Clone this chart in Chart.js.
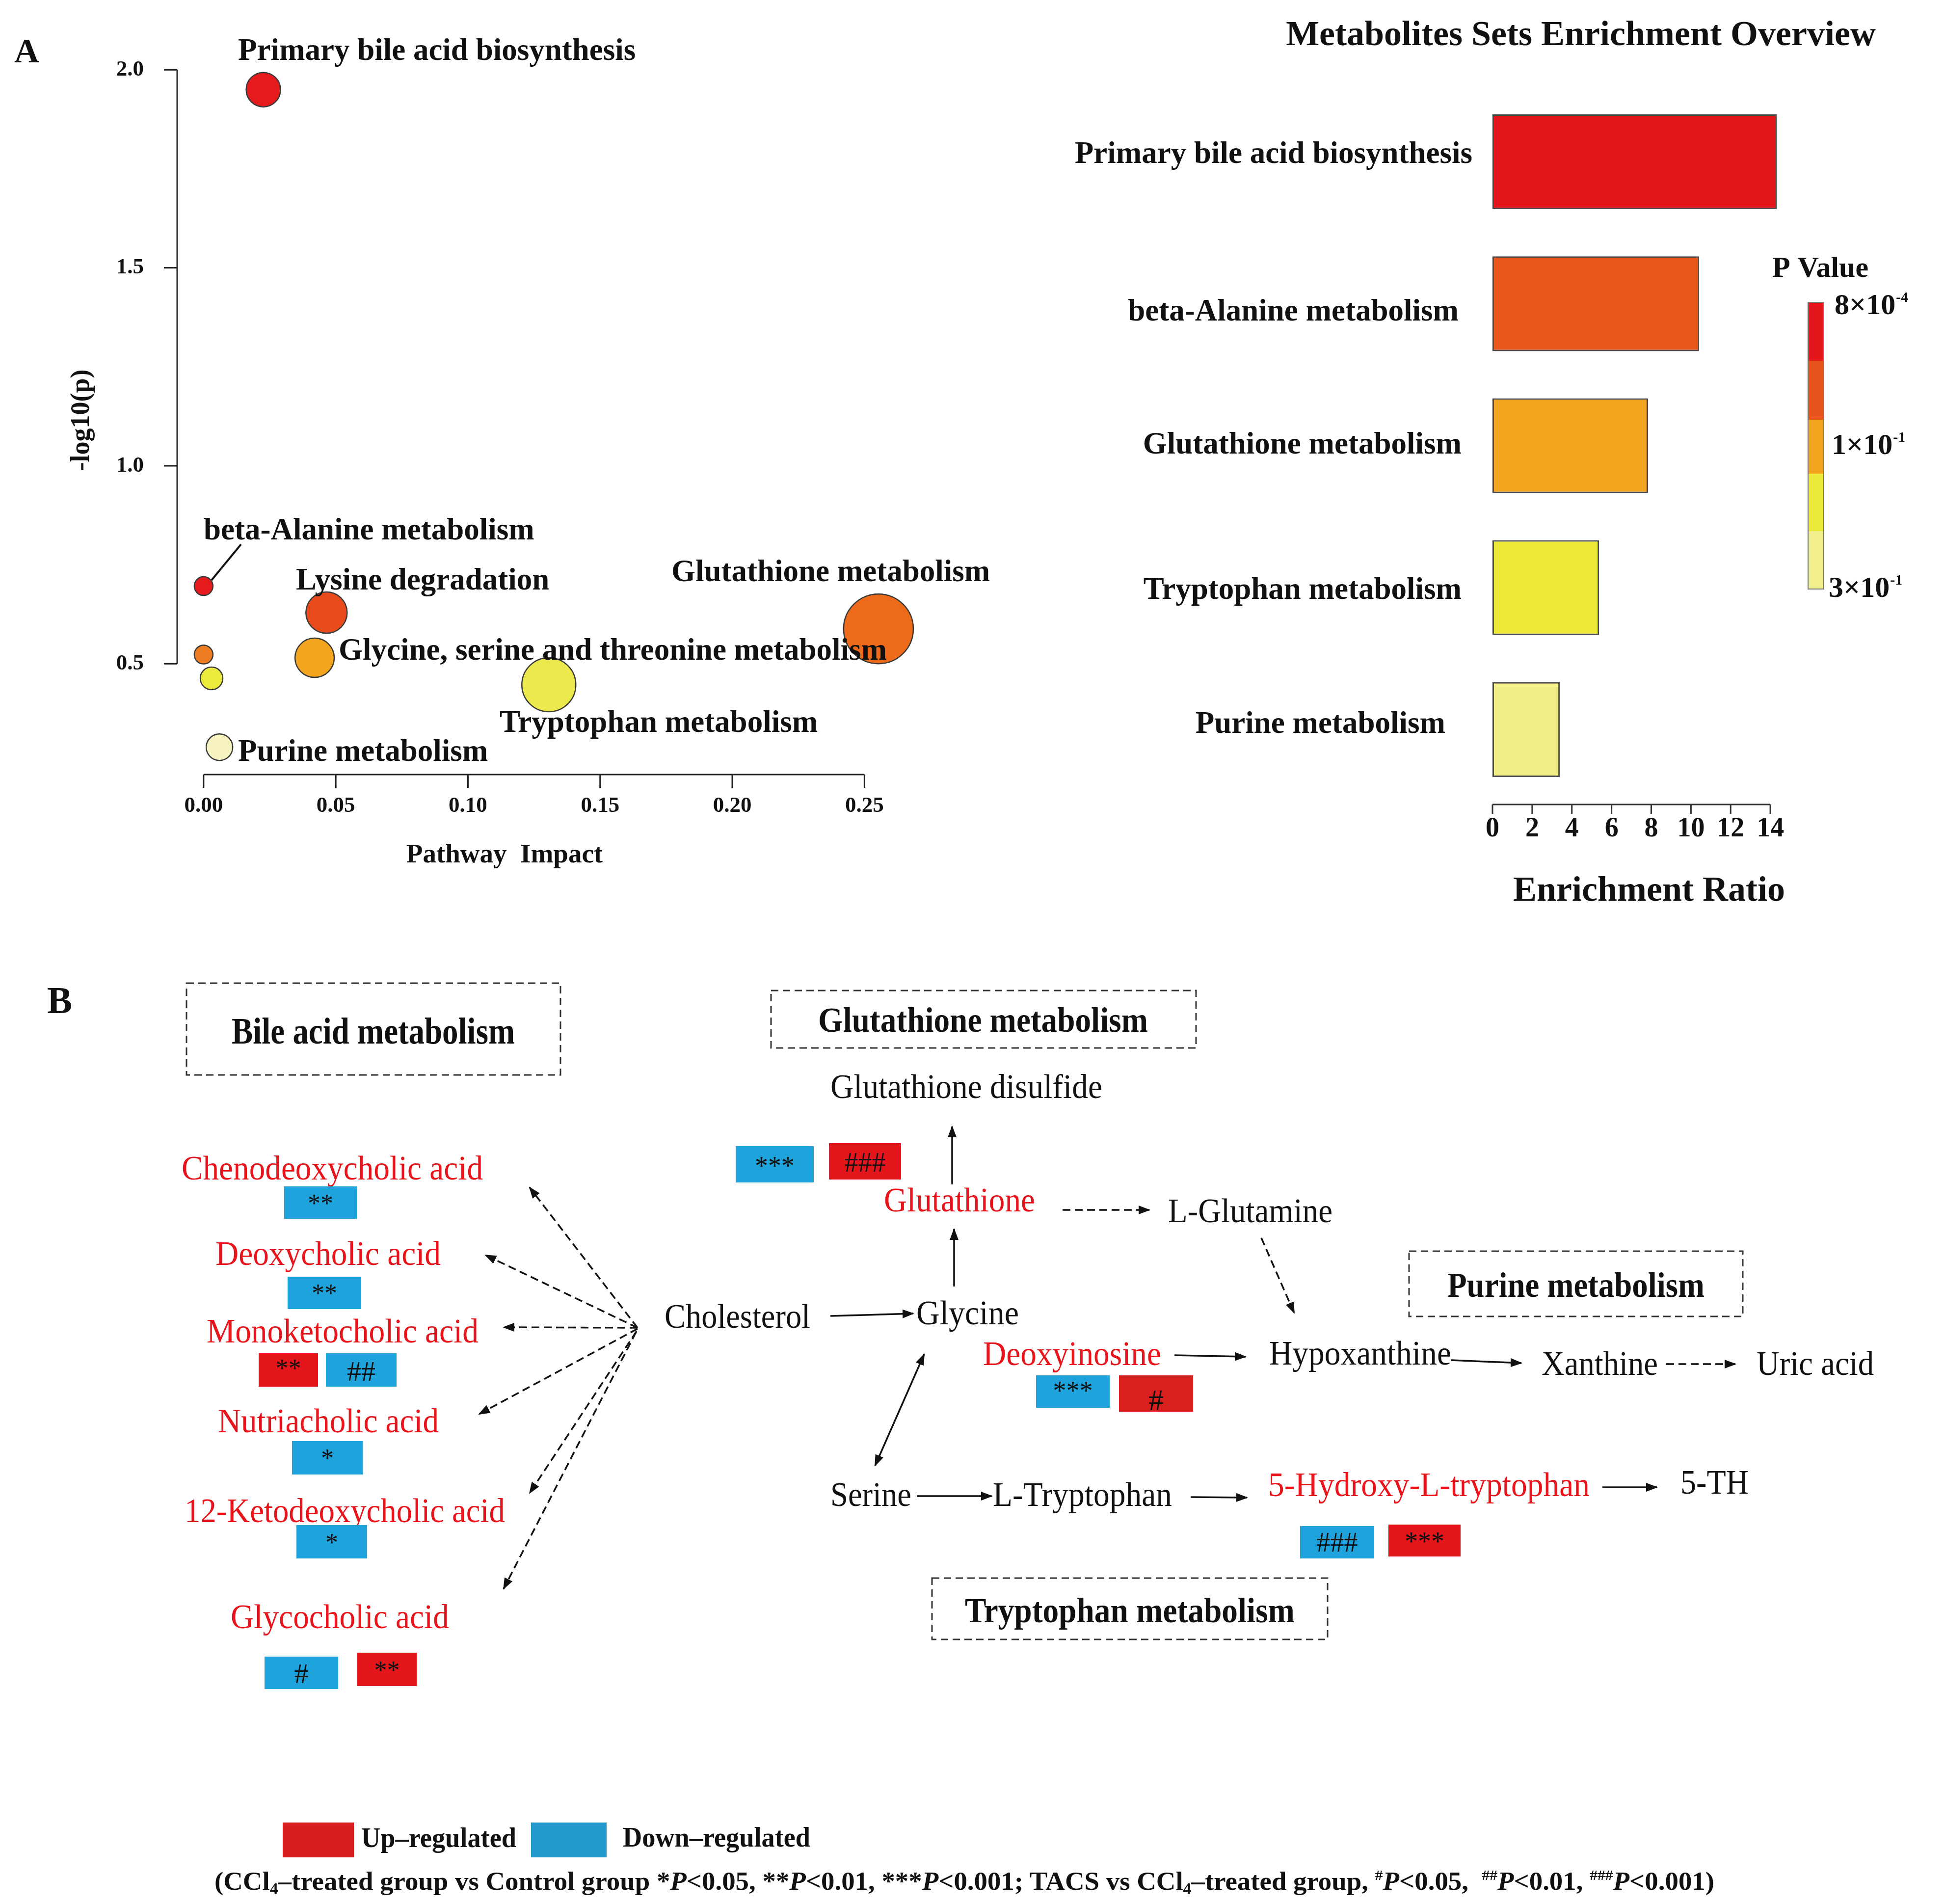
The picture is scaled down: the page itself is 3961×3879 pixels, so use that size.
<!DOCTYPE html>
<html>
<head>
<meta charset="utf-8">
<script src="https://cdn.jsdelivr.net/npm/chart.js@4.4.0/dist/chart.umd.min.js"></script>
<style>
  html, body { margin: 0; padding: 0; background: #fff; }
  #page { position: relative; width: 3961px; height: 3879px; overflow: hidden; background: #fff; }
  #page canvas, #page svg { position: absolute; left: 0; top: 0; }
</style>
</head>
<body>
<div id="page">
  <canvas id="bubbleChart" width="3961" height="3879"></canvas>
  <canvas id="barChart" width="3961" height="3879"></canvas>
  <svg id="pathway" width="3961" height="3879" xmlns="http://www.w3.org/2000/svg"></svg>
</div>
<script>
// ---- A left: pathway analysis ----
const pathwayNames = ['Primary bile acid biosynthesis', 'beta-Alanine metabolism', 'Lysine degradation', '', '',
    'Glycine, serine and threonine metabolism', 'Tryptophan metabolism', 'Glutathione metabolism', 'Purine metabolism'];
const pathwayImpact = [0.0226, 0.0, 0.0465, 0.0, 0.003, 0.042, 0.1306, 0.2553, 0.006];
const pathwayLogP = [1.95, 0.696, 0.629, 0.523, 0.463, 0.515, 0.447, 0.588, 0.289];
const bubbleRadius = [35, 19, 42, 19, 23, 40, 55, 71, 27];
const bubbleColors = ['#e41a1c', '#e41a1c', '#e84a1c', '#ee7d22', '#ecea3c', '#f3a51f', '#ece94c', '#ec6a1a', '#f6f3c0'];
const impactTicks = [0, 0.05, 0.10, 0.15, 0.20, 0.25];
const logPTicks = [0.5, 1.0, 1.5, 2.0];

// ---- A right: enrichment overview ----
const setNames = ['Primary bile acid biosynthesis', 'beta-Alanine metabolism', 'Glutathione metabolism',
    'Tryptophan metabolism', 'Purine metabolism'];
const enrichmentRatio = [14.32, 10.41, 7.84, 5.37, 3.39];
const barColors = ['#e4161c', '#e8561b', '#f3a51f', '#ece936', '#f1ee88'];
const ratioTicks = [0, 2, 4, 6, 8, 10, 12, 14];
const pValueLabels = [['8×10', '-4'], ['1×10', '-1'], ['3×10', '-1']];
const pValueColors = ['#e4161c', '#e8541c', '#f3a51f', '#ebe93a', '#f1ee8e'];

const SERIF = '"Liberation Serif", "Times New Roman", serif';

// label spots for the bubble plot (index, left x, middle y)
const labelSpots = [[0, 485, 106], [1, 415, 1083], [2, 603, 1185], [5, 690, 1328], [6, 1018, 1475], [7, 1368, 1168], [8, 485, 1534]];

const bubbleDecor = {
    id: 'bubbleDecor',
    beforeDatasetsDraw(chart) {
        const { ctx, chartArea, scales: { x, y } } = chart;
        ctx.save();
        ctx.strokeStyle = '#222';
        ctx.lineWidth = 3;
        ctx.beginPath();
        const ax = chartArea.left;
        ctx.moveTo(ax, y.getPixelForValue(logPTicks[0]));
        ctx.lineTo(ax, y.getPixelForValue(logPTicks[logPTicks.length - 1]));
        logPTicks.forEach(v => {
            const py = y.getPixelForValue(v);
            ctx.moveTo(ax, py);
            ctx.lineTo(ax - 27, py);
        });
        const ay = chartArea.bottom;
        ctx.moveTo(x.getPixelForValue(impactTicks[0]), ay);
        ctx.lineTo(x.getPixelForValue(impactTicks[impactTicks.length - 1]), ay);
        impactTicks.forEach(v => {
            const px = x.getPixelForValue(v);
            ctx.moveTo(px, ay);
            ctx.lineTo(px, ay + 27);
        });
        ctx.stroke();

        ctx.fillStyle = '#111';
        ctx.font = 'bold 45px ' + SERIF;
        ctx.textAlign = 'right';
        ctx.textBaseline = 'middle';
        logPTicks.forEach(v => ctx.fillText(v.toFixed(1), 293, y.getPixelForValue(v)));
        ctx.textAlign = 'center';
        impactTicks.forEach(v => ctx.fillText(v.toFixed(2), x.getPixelForValue(v), 1642));

        // axis titles
        ctx.font = 'bold 55px ' + SERIF;
        ctx.fillText('Pathway  Impact', 1028, 1743);
        ctx.save();
        ctx.translate(167, 856);
        ctx.rotate(-Math.PI / 2);
        ctx.font = 'bold 54px ' + SERIF;
        ctx.fillText('-log10(p)', 0, 0);
        ctx.restore();

        ctx.font = 'bold 70px ' + SERIF;
        ctx.textAlign = 'left';
        ctx.textBaseline = 'alphabetic';
        ctx.fillText('A', 29, 127);
        ctx.restore();
    },
    afterDatasetsDraw(chart) {
        const { ctx } = chart;
        ctx.save();
        // leader line for beta-Alanine
        ctx.strokeStyle = '#111';
        ctx.lineWidth = 4;
        ctx.beginPath();
        ctx.moveTo(431, 1182);
        ctx.lineTo(491, 1109);
        ctx.stroke();
        ctx.fillStyle = '#111';
        ctx.font = 'bold 63px ' + SERIF;
        ctx.textAlign = 'left';
        ctx.textBaseline = 'middle';
        labelSpots.forEach(([i, lx, ly]) => ctx.fillText(pathwayNames[i], lx, ly));
        ctx.restore();
    }
};

new Chart(document.getElementById('bubbleChart'), {
    type: 'bubble',
    data: {
        datasets: [{
            data: pathwayImpact.map((v, i) => ({ x: v, y: pathwayLogP[i], r: bubbleRadius[i] })),
            backgroundColor: bubbleColors,
            borderColor: '#3a3a3a',
            borderWidth: 2.5,
            clip: false
        }]
    },
    options: {
        responsive: false,
        animation: false,
        devicePixelRatio: 1,
        layout: { padding: { left: 361, right: 3961 - 1896, top: 102, bottom: 3879 - 1578 } },
        scales: {
            x: { type: 'linear', min: -0.01, max: 0.275, display: false },
            y: { type: 'linear', min: 0.22, max: 2.05, display: false }
        },
        plugins: { legend: { display: false }, tooltip: { enabled: false } }
    },
    plugins: [bubbleDecor]
});

const barDecor = {
    id: 'barDecor',
    afterDatasetsDraw(chart) {
        const { ctx, chartArea, scales: { x, y } } = chart;
        ctx.save();
        // x axis
        const ay = chartArea.bottom + 8;
        ctx.strokeStyle = '#333';
        ctx.lineWidth = 3;
        ctx.beginPath();
        ctx.moveTo(x.getPixelForValue(ratioTicks[0]), ay);
        ctx.lineTo(x.getPixelForValue(ratioTicks[ratioTicks.length - 1]), ay);
        ratioTicks.forEach(v => {
            const px = x.getPixelForValue(v);
            ctx.moveTo(px, ay);
            ctx.lineTo(px, ay + 19);
        });
        ctx.stroke();
        ctx.fillStyle = '#111';
        ctx.font = 'bold 56px ' + SERIF;
        ctx.textAlign = 'center';
        ctx.textBaseline = 'middle';
        ratioTicks.forEach(v => ctx.fillText(String(v), x.getPixelForValue(v), 1690));

        ctx.font = 'bold 72px ' + SERIF;
        ctx.fillText('Enrichment Ratio', 3360, 1816);
        ctx.fillText('Metabolites Sets Enrichment Overview', 3221, 73);

        // category labels (the original ones are not quite aligned)
        const rightEdge = [3000, 2972, 2978, 2978, 2945];
        const shift = [-14, 18, 0, 7, -10];
        ctx.font = 'bold 63px ' + SERIF;
        ctx.textAlign = 'right';
        setNames.forEach((n, i) => ctx.fillText(n, rightEdge[i], y.getPixelForValue(i) + shift[i]));

        // p value colour key
        const edges = [616, 735, 855, 965, 1082, 1200];
        pValueColors.forEach((c, i) => {
            ctx.fillStyle = c;
            ctx.fillRect(3684, edges[i], 32, edges[i + 1] - edges[i]);
        });
        ctx.strokeStyle = '#777';
        ctx.lineWidth = 2;
        ctx.strokeRect(3684, edges[0], 32, edges[5] - edges[0]);
        ctx.fillStyle = '#111';
        ctx.textAlign = 'center';
        ctx.font = 'bold 60px ' + SERIF;
        ctx.fillText('P Value', 3709, 548);
        const keyY = [624, 909, 1200];
        const keyX = [3738, 3732, 3726];
        pValueLabels.forEach(([base, exp], i) => {
            ctx.textAlign = 'left';
            ctx.font = 'bold 60px ' + SERIF;
            ctx.fillText(base, keyX[i], keyY[i]);
            const w = ctx.measureText(base).width;
            ctx.font = 'bold 30px ' + SERIF;
            ctx.fillText(exp, keyX[i] + w + 1, keyY[i] - 17);
        });
        ctx.restore();
    }
};

new Chart(document.getElementById('barChart'), {
    type: 'bar',
    data: {
        labels: setNames,
        datasets: [{
            data: enrichmentRatio,
            backgroundColor: barColors,
            borderColor: '#4a4a4a',
            borderWidth: 3,
            borderSkipped: false,
            barPercentage: 0.668,
            categoryPercentage: 1
        }]
    },
    options: {
        indexAxis: 'y',
        responsive: false,
        animation: false,
        devicePixelRatio: 1,
        layout: { padding: { left: 3041, right: 3961 - 3688, top: 185, bottom: 3879 - 1631 } },
        scales: {
            x: { type: 'linear', min: 0, max: 16, display: false },
            y: { display: false }
        },
        plugins: { legend: { display: false }, tooltip: { enabled: false } }
    },
    plugins: [barDecor]
});

// ---- B: pathway diagram ----
const svg = document.getElementById('pathway');
const NS = 'http://www.w3.org/2000/svg';
const RED = '#e8141b', BLUE = '#1fa3dc', BOXRED = '#e5161b';

function el(tag, attrs, parent) {
    const e = document.createElementNS(NS, tag);
    for (const k in attrs) e.setAttribute(k, attrs[k]);
    (parent || svg).appendChild(e);
    return e;
}

const defs = el('defs', {});
const mk = el('marker', { id: 'head', markerUnits: 'userSpaceOnUse', markerWidth: 24, markerHeight: 18,
    refX: 22, refY: 9, orient: 'auto-start-reverse' }, defs);
el('path', { d: 'M0,0 L24,9 L0,18 Z', fill: '#111' }, mk);

function label(text, x, y, w, size, color, bold) {
    const t = el('text', { x, y, 'font-family': SERIF, 'font-size': size, fill: color,
        'font-weight': bold ? 'bold' : 'normal', textLength: w, lengthAdjust: 'spacingAndGlyphs' });
    t.textContent = text;
}

label('B', 96, 2064, 51, 78, '#111', true);

// dashed group boxes with titles
const groups = [
    ['Bile acid metabolism', 380, 2003, 1142, 2190, 472, 2126, 577, 76],
    ['Glutathione metabolism', 1571, 2018, 2437, 2135, 1667, 2102, 672, 72],
    ['Purine metabolism', 2871, 2549, 3551, 2682, 2949, 2642, 524, 72],
    ['Tryptophan metabolism', 1899, 3215, 2705, 3340, 1966, 3305, 672, 72]
];
groups.forEach(([name, x1, y1, x2, y2, tx, ty, tw, ts]) => {
    el('rect', { x: x1, y: y1, width: x2 - x1, height: y2 - y1, fill: 'none', stroke: '#333',
        'stroke-width': 3, 'stroke-dasharray': '15 9' });
    label(name, tx, ty, tw, ts, '#111', true);
});

// metabolites
const metabolites = [
    ['Chenodeoxycholic acid', 370, 2403, 614, RED],
    ['Deoxycholic acid', 439, 2577, 459, RED],
    ['Monoketocholic acid', 421, 2735, 554, RED],
    ['Nutriacholic acid', 444, 2918, 450, RED],
    ['12-Ketodeoxycholic acid', 376, 3101, 653, RED],
    ['Glycocholic acid', 470, 3317, 445, RED],
    ['Cholesterol', 1354, 2705, 297, '#111'],
    ['Glycine', 1867, 2698, 209, '#111'],
    ['Glutathione disulfide', 1692, 2237, 554, '#111'],
    ['Glutathione', 1801, 2468, 308, RED],
    ['L-Glutamine', 2380, 2490, 335, '#111'],
    ['Deoxyinosine', 2003, 2781, 363, RED],
    ['Hypoxanthine', 2586, 2780, 371, '#111'],
    ['Xanthine', 3141, 2801, 237, '#111'],
    ['Uric acid', 3579, 2801, 239, '#111'],
    ['Serine', 1692, 3068, 165, '#111'],
    ['L-Tryptophan', 2023, 3068, 365, '#111'],
    ['5-Hydroxy-L-tryptophan', 2584, 3048, 655, RED],
    ['5-TH', 3424, 3043, 139, '#111']
];
metabolites.forEach(([n, x, y, w, c]) => label(n, x, y, w, 70, c, false));

// arrows
const solidArrows = [
    [1692, 2681, 1861, 2676], [1944, 2621, 1944, 2504], [1940, 2413, 1940, 2295],
    [2393, 2761, 2538, 2764], [2957, 2771, 3100, 2777], [1869, 3048, 2021, 3048],
    [2426, 3050, 2541, 3051], [3265, 3030, 3376, 3030]
];
solidArrows.forEach(([x1, y1, x2, y2]) => el('line', { x1, y1, x2, y2, stroke: '#111', 'stroke-width': 3.5, 'marker-end': 'url(#head)' }));
el('line', { x1: 1883, y1: 2759, x2: 1783, y2: 2986, stroke: '#111', 'stroke-width': 3.5,
    'marker-start': 'url(#head)', 'marker-end': 'url(#head)' });

const dashedArrows = [
    [2165, 2465, 2342, 2465], [2570, 2522, 2637, 2675], [3395, 2779, 3536, 2779],
    [1299, 2705, 1079, 2419], [1299, 2705, 989, 2557], [1299, 2705, 1026, 2704],
    [1299, 2707, 976, 2881], [1297, 2712, 1079, 3042], [1296, 2714, 1026, 3237]
];
dashedArrows.forEach(([x1, y1, x2, y2]) => el('line', { x1, y1, x2, y2, stroke: '#111', 'stroke-width': 3.5,
    'stroke-dasharray': '16 9', 'marker-end': 'url(#head)' }));

// significance boxes
const marks = [
    [579, 2417, 727, 2483, BLUE, '**', 2445, 52],
    [586, 2601, 736, 2667, BLUE, '**', 2628, 52],
    [527, 2757, 648, 2825, BOXRED, '**', 2781, 52],
    [664, 2757, 808, 2825, BLUE, '##', 2793, 58],
    [595, 2936, 739, 3004, BLUE, '*', 2964, 52],
    [604, 3107, 748, 3175, BLUE, '*', 3136, 52],
    [539, 3375, 689, 3441, BLUE, '#', 3409, 58],
    [728, 3367, 849, 3435, BOXRED, '**', 3396, 52],
    [1499, 2335, 1658, 2409, BLUE, '***', 2368, 54],
    [1689, 2329, 1836, 2403, BOXRED, '###', 2368, 56],
    [2111, 2802, 2261, 2868, BLUE, '***', 2826, 54],
    [2280, 2802, 2431, 2876, '#d9201f', '#', 2852, 62],
    [2649, 3109, 2800, 3175, BLUE, '###', 3142, 56],
    [2829, 3106, 2976, 3171, BOXRED, '***', 3133, 54]
];
marks.forEach(([x1, y1, x2, y2, fill, txt, cy, size]) => {
    el('rect', { x: x1, y: y1, width: x2 - x1, height: y2 - y1, fill });
    const lift = txt[0] === '*' ? 0.47 : 0.34;
    const t = el('text', { x: (x1 + x2) / 2, y: cy + lift * size, 'text-anchor': 'middle',
        'font-family': SERIF, 'font-size': size, fill: '#111' });
    t.textContent = txt;
});

// legend
el('rect', { x: 576, y: 3713, width: 145, height: 71, fill: '#d71f1f' });
label('Up–regulated', 736, 3763, 316, 56, '#111', true);
el('rect', { x: 1082, y: 3713, width: 154, height: 71, fill: '#2499cd' });
label('Down–regulated', 1269, 3762, 382, 56, '#111', true);

// caption
const cap = el('text', { x: 437, y: 3850, 'font-family': SERIF, 'font-size': 52, 'font-weight': 'bold', fill: '#111',
    textLength: 3056, lengthAdjust: 'spacingAndGlyphs', style: 'white-space:pre' });
const capParts = [
    ['(CCl'], ['4', 'sub'], ['–treated group vs Control group *'], ['P', 'i'], ['<0.05, **'], ['P', 'i'],
    ['<0.01, ***'], ['P', 'i'], ['<0.001; TACS vs CCl'], ['4', 'sub'], ['–treated group, '], ['#', 'sup'],
    ['P', 'i'], ['<0.05,  '], ['##', 'sup'], ['P', 'i'], ['<0.01, '], ['###', 'sup'], ['P', 'i'], ['<0.001)']
];
let level = 0;
capParts.forEach(([s, kind]) => {
    const target = kind === 'sub' ? 8 : kind === 'sup' ? -20 : 0;
    const a = { dy: target - level };
    level = target;
    if (kind === 'i') a['font-style'] = 'italic';
    if (kind === 'sub') a['font-size'] = 32;
    if (kind === 'sup') a['font-size'] = 30;
    const ts = el('tspan', a, cap);
    ts.textContent = s;
});
</script>
</body>
</html>
